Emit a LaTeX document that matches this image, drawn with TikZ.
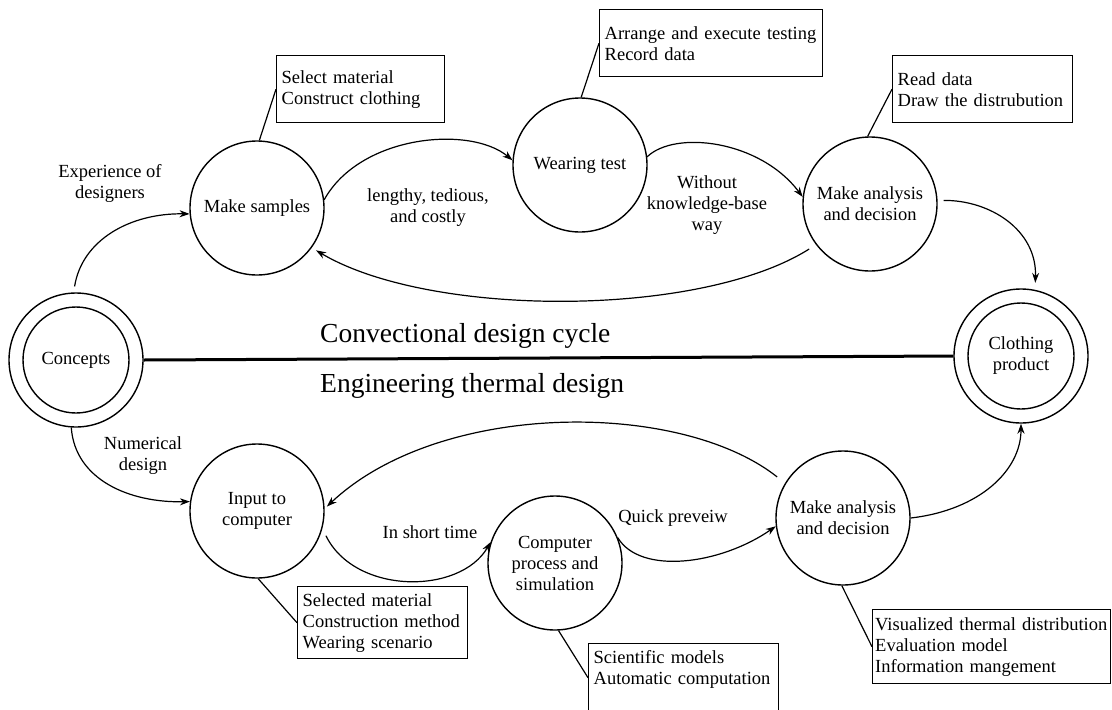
\documentclass[tikz,border=0pt]{standalone}
\usepackage{fontspec}
\setmainfont{Liberation Serif}
\usetikzlibrary{arrows.meta}
\begin{document}
\begin{tikzpicture}[x=1pt,y=-1pt,
  every node/.style={font=\fontsize{18.5}{21}\selectfont},
  stage/.style={circle, draw, line width=1.4pt, minimum size=134pt, inner sep=0pt, align=center, fill=white},
  innerring/.style={circle, draw, line width=1.4pt, minimum size=106pt, inner sep=0pt, align=center},
  note/.style={draw, line width=1.4pt, anchor=north west, align=left, inner xsep=5pt, inner ysep=0pt},
  flow/.style={line width=1.2pt, -{Stealth[length=10pt,width=7pt]}},
  lead/.style={line width=1.2pt},
  lbl/.style={align=center, inner sep=1pt},
  head/.style={font=\fontsize{27.5}{32}\selectfont, anchor=west, inner sep=0pt}
]
\useasboundingbox[fill=white] (0,0) rectangle (1112,710);

% stages
\node[stage] (concepts) at (76,360) {};
\node[innerring] (conceptsin) at (concepts) {Concepts};
\node[stage] (clothing) at (1021,356) {};
\node[innerring] (clothingin) at (clothing) {Clothing\\product};

\node[stage] (samples) at (257,208) {Make samples};
\node[stage] (wearing) at (580,165) {Wearing test};
\node[stage] (analysisT) at (870,204) {Make analysis\\and decision};

\node[stage] (input) at (257,511) {Input to\\computer};
\node[stage] (computer) at (555,563) {Computer\\process and\\simulation};
\node[stage] (analysisB) at (843,518) {Make analysis\\and decision};

% note boxes
\node[note, text width=158pt, minimum height=67pt] (box1) at (276,55) {Select material\\Construct clothing};
\node[note, text width=213pt, minimum height=67pt] (box2) at (599,9) {Arrange and execute testing\\Record data};
\node[note, text width=170pt, minimum height=67pt] (box3) at (892,55) {Read data\\Draw the distrubution};
\node[note, text width=160pt, minimum height=72pt] (box4) at (297,586) {Selected material\\Construction method\\Wearing scenario};
\node[note, text width=180pt, minimum height=68pt] (box5) at (588,643) {Scientific models\\Automatic computation\\\mbox{}};
\node[note, inner xsep=2.5pt, text width=233pt, minimum height=74pt] (box6) at (872,609) {Visualized thermal distribution\\Evaluation model\\Information mangement};

% divider and headings
\draw[line width=3pt] (concepts.east) -- (clothing.west);
\node[head] (hconv) at (320,336) {Convectional design cycle};
\node[head] (heng) at (320,386) {Engineering thermal design};

% leaders
\draw[lead] (samples.88) -- (box1.west);
\draw[lead] (wearing.89) -- (box2.west);
\draw[lead] (analysisT.92) -- (box3.west);
\draw[lead] (input.-89) -- (box4.west);
\draw[lead] (computer.-87) -- (box5.west);
\draw[lead] (analysisB.-91) -- (box6.west);

% conventional cycle
\draw[flow, shorten <=6pt] (concepts.92) .. controls (82,240) and (130,213) .. (samples.185);
\draw[flow] (samples.7) .. controls (360,135) and (470,125) .. (wearing.176);
\draw[flow] (wearing.7) .. controls (675,130) and (760,140) .. (analysisT.174);
\draw[flow, shorten <=8pt, shorten >=5pt] (analysisT.217) .. controls (700,318) and (430,318) .. (samples.-36);
\draw[flow, shorten <=6pt, shorten >=7pt] (analysisT.3) .. controls (990,200) and (1037,230) .. (clothing.78);

% engineering cycle
\draw[flow] (concepts.266) .. controls (75,480) and (130,503) .. (input.172);
\draw[flow, shorten <=10pt, shorten >=3pt] (analysisB.149) .. controls (680,400) and (440,400) .. (input.2);
\draw[flow, shorten <=8pt] (input.-15) .. controls (355,595) and (460,595) .. (computer.162);
\draw[flow] (computer.22) .. controls (640,575) and (720,565) .. (analysisB.187);
\draw[flow] (analysisB.0) .. controls (980,510) and (1021,470) .. (clothing.270);

% labels
\node[lbl] (lexp) at (110,183) {Experience of\\designers};
\node[lbl] (lleng) at (428,208) {lengthy, tedious,\\and costly};
\node[lbl] (lwith) at (707,205) {Without\\knowledge-base\\way};
\node[lbl] (lnum) at (143,456) {Numerical\\design};
\node[lbl] (lshort) at (430,532) {In short time};
\node[lbl] (lquick) at (673,518) {Quick preveiw};
\end{tikzpicture}
\end{document}
